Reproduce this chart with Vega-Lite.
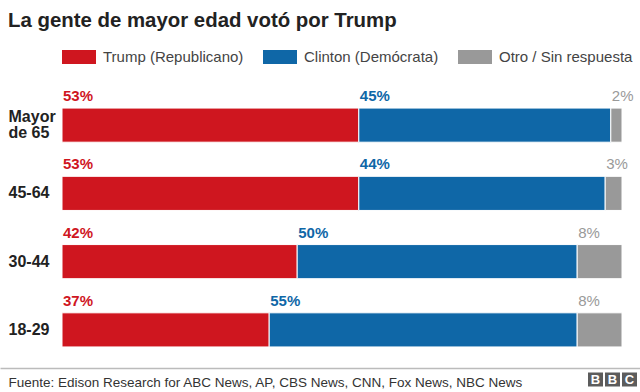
{
  "$schema": "https://vega.github.io/schema/vega-lite/v6.json",
  "width": 640,
  "height": 392,
  "autosize": {"type": "none"},
  "padding": 0,
  "background": "white",
  "title": {
    "text": "La gente de mayor edad votó por Trump",
    "anchor": "start",
    "frame": "group",
    "dx": 8,
    "dy": 47,
    "offset": 0,
    "baseline": "alphabetic",
    "fontSize": 20.4,
    "fontWeight": "bold",
    "font": "Liberation Sans",
    "color": "#222222"
  },
  "config": {"view": {"stroke": null}, "font": "Liberation Sans"},
  "data": {
    "values": [
      {"edad": "Mayor de 65", "partido": "Trump (Republicano)", "pct": 0.53, "orden": 1},
      {"edad": "Mayor de 65", "partido": "Clinton (Demócrata)", "pct": 0.45, "orden": 2},
      {"edad": "Mayor de 65", "partido": "Otro / Sin respuesta", "pct": 0.02, "orden": 3},
      {"edad": "45-64", "partido": "Trump (Republicano)", "pct": 0.53, "orden": 1},
      {"edad": "45-64", "partido": "Clinton (Demócrata)", "pct": 0.44, "orden": 2},
      {"edad": "45-64", "partido": "Otro / Sin respuesta", "pct": 0.03, "orden": 3},
      {"edad": "30-44", "partido": "Trump (Republicano)", "pct": 0.42, "orden": 1},
      {"edad": "30-44", "partido": "Clinton (Demócrata)", "pct": 0.50, "orden": 2},
      {"edad": "30-44", "partido": "Otro / Sin respuesta", "pct": 0.08, "orden": 3},
      {"edad": "18-29", "partido": "Trump (Republicano)", "pct": 0.37, "orden": 1},
      {"edad": "18-29", "partido": "Clinton (Demócrata)", "pct": 0.55, "orden": 2},
      {"edad": "18-29", "partido": "Otro / Sin respuesta", "pct": 0.08, "orden": 3}
    ]
  },
  "transform": [
    {"stack": "pct", "groupby": ["edad"], "sort": [{"field": "orden", "order": "ascending"}], "as": ["x0", "x1"]}
  ],
  "layer": [
    {
      "layer": [
        {
          "mark": {"type": "bar", "stroke": "white", "strokeWidth": 1},
          "encoding": {
            "y": {
              "field": "edad",
              "type": "nominal",
              "sort": ["Mayor de 65", "45-64", "30-44", "18-29"],
              "scale": {"range": [91, 364], "paddingInner": 0.5, "paddingOuter": 0.25},
              "axis": {
                "title": null,
                "domain": false,
                "ticks": false,
                "labelAlign": "left",
                "labelPadding": -8,
                "labelFontSize": 16,
                "labelFontWeight": "bold",
                "labelColor": "#222222",
                "labelLineHeight": 16,
                "labelBaseline": "middle",
                "labelOffset": {"condition": {"test": "datum.label == 'Mayor de 65'", "value": -8}, "value": 0},
                "labelExpr": "datum.label == 'Mayor de 65' ? ['Mayor', 'de 65'] : datum.label"
              }
            },
            "x": {"field": "x0", "type": "quantitative", "scale": {"domain": [0, 1], "range": [62, 622]}, "axis": null},
            "x2": {"field": "x1"},
            "color": {
              "field": "partido",
              "type": "nominal",
              "scale": {
                "domain": ["Trump (Republicano)", "Clinton (Demócrata)", "Otro / Sin respuesta"],
                "range": ["#cf161f", "#0f67a7", "#999999"]
              },
              "legend": {
                "orient": "none",
                "legendX": 62,
                "legendY": 40,
                "direction": "horizontal",
                "title": null,
                "symbolType": "M-1,-0.41H1V0.41H-1Z",
                "symbolSize": 1156,
                "symbolStrokeWidth": 0,
                "symbolOpacity": 1,
                "labelFontSize": 15,
                "labelColor": "#444444",
                "labelOffset": 7,
                "columnPadding": 19,
                "labelFont": "Liberation Sans"
              }
            }
          }
        },
        {
          "transform": [{"filter": "datum.orden < 3"}],
          "mark": {"type": "text", "align": "left", "baseline": "alphabetic", "dx": 1, "dy": -7, "fontSize": 15, "fontWeight": "bold"},
          "encoding": {
            "y": {"field": "edad", "type": "nominal", "sort": ["Mayor de 65", "45-64", "30-44", "18-29"], "bandPosition": 0},
            "x": {"field": "x0", "type": "quantitative"},
            "text": {"field": "pct", "type": "quantitative", "format": ".0%"},
            "color": {"field": "partido", "type": "nominal"}
          }
        },
        {
          "transform": [{"filter": "datum.orden == 3"}],
          "mark": {"type": "text", "align": "left", "baseline": "alphabetic", "dx": 1, "dy": -7, "fontSize": 15, "fontWeight": "normal"},
          "encoding": {
            "y": {"field": "edad", "type": "nominal", "sort": ["Mayor de 65", "45-64", "30-44", "18-29"], "bandPosition": 0},
            "x": {"field": "x0", "type": "quantitative"},
            "text": {"field": "pct", "type": "quantitative", "format": ".0%"},
            "color": {"field": "partido", "type": "nominal"}
          }
        }
      ]
    },
    {
      "mark": {"type": "point", "opacity": 0},
      "encoding": {
        "x": {
          "field": "pct",
          "type": "quantitative",
          "scale": {"domain": [0, 640]},
          "axis": {
            "orient": "bottom",
            "offset": -24,
            "values": [595, 612, 629],
            "labelExpr": "datum.value < 620 ? 'B' : 'C'",
            "domainColor": "#bbbbbb",
            "domainWidth": 1.5,
            "ticks": true,
            "tickSize": 18,
            "tickWidth": 15,
            "tickColor": "#5c5c5c",
            "tickDash": [0, 4, 14, 100],
            "tickCap": "butt",
            "labelColor": "white",
            "labelFontSize": 13,
            "labelFontWeight": "bold",
            "labelBaseline": "middle",
            "labelPadding": -7,
            "labelAlign": "center",
            "labelFlush": false,
            "labelOverlap": false,
            "grid": false,
            "title": "Fuente: Edison Research for ABC News, AP, CBS News, CNN, Fox News, NBC News",
            "titleX": 8,
            "titleY": 18,
            "titleAlign": "left",
            "titleBaseline": "alphabetic",
            "titleFontSize": 13.5,
            "titleFontWeight": "normal",
            "titleColor": "#333333",
            "titlePadding": 0
          }
        }
      }
    }
  ],
  "resolve": {"scale": {"x": "independent"}, "axis": {"x": "independent"}}
}
